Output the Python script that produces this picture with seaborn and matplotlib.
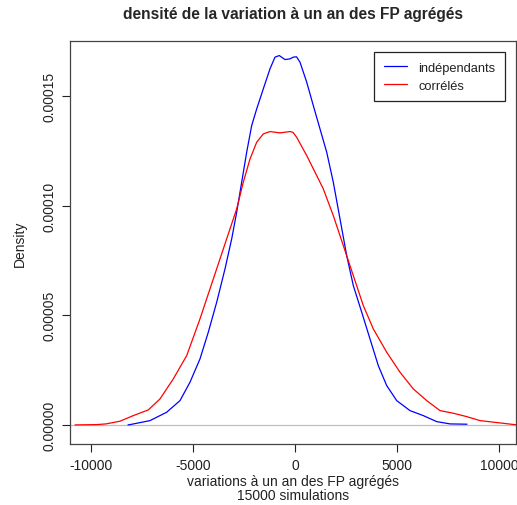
import matplotlib
matplotlib.use("Agg")
import matplotlib.pyplot as plt
import seaborn as sns
import pandas as pd

# Density curves
x_indep = [-8186, -8088, -7108, -6289, -5637, -5147, -4657, -4250, -3838, -3431,
           -3103, -2858, -2613, -2368, -2123, -1877, -1554, -1226, -980, -770,
           -490, -245, -83, 74, 245, 574, 897, 1225, 1554, 1877, 2206, 2534,
           2858, 3270, 3676, 4083, 4495, 4985, 5637, 6289, 6946, 7598, 8431]
y_indep = [0.0, 1.4e-7, 1.96e-6, 5.79e-6, 1.108e-5, 1.947e-5, 3.009e-5, 4.226e-5,
           5.594e-5, 7.112e-5, 8.480e-5, 9.697e-5, 1.1065e-4, 1.2433e-4, 1.3645e-4,
           1.4406e-4, 1.5318e-4, 1.6230e-4, 1.6764e-4, 1.6836e-4, 1.6654e-4,
           1.6686e-4, 1.6764e-4, 1.678e-4, 1.6535e-4, 1.5624e-4, 1.4557e-4,
           1.3494e-4, 1.2433e-4, 1.1065e-4, 9.392e-5, 7.718e-5, 6.351e-5, 5.138e-5,
           3.921e-5, 2.703e-5, 1.792e-5, 1.108e-5, 6.52e-6, 4.24e-6, 1.50e-6,
           4.6e-7, 3.2e-7]

x_corr = [-10784, -9721, -9265, -8579, -7927, -7191, -6618, -5966, -5309, -4657,
          -4167, -3676, -3186, -2858, -2534, -2206, -1877, -1554, -1226, -735,
          -245, -98, 83, 574, 980, 1387, 1877, 2368, 2858, 3348, 3838, 4495,
          5147, 5799, 6456, 7108, 7760, 8417, 9069, 10049, 10701, 10833]
y_corr = [0.0, 1.4e-7, 4.6e-7, 1.69e-6, 4.24e-6, 6.84e-6, 1.185e-5, 2.097e-5,
          3.159e-5, 4.833e-5, 6.200e-5, 7.568e-5, 8.936e-5, 9.847e-5, 1.1065e-4,
          1.2120e-4, 1.2888e-4, 1.3266e-4, 1.3372e-4, 1.3312e-4, 1.3372e-4,
          1.3335e-4, 1.311e-4, 1.2278e-4, 1.1521e-4, 1.0759e-4, 9.542e-5,
          8.174e-5, 6.807e-5, 5.439e-5, 4.377e-5, 3.314e-5, 2.403e-5, 1.641e-5,
          1.108e-5, 6.52e-6, 5.33e-6, 3.78e-6, 1.96e-6, 9.1e-7, 2.0e-7, 1.0e-7]

series_names = ["indépendants", "corrélés"]
series_colors = ["#0000FF", "#FF0000"]
x_ticks = [-10000, -5000, 0, 5000, 10000]
x_tick_labels = ["-10000", "-5000", "0", "5000", "10000"]
y_ticks = [0.0, 0.00005, 0.00010, 0.00015]
y_tick_labels = ["0.00000", "0.00005", "0.00010", "0.00015"]

df = pd.concat([
    pd.DataFrame({"x": x_indep, "y": y_indep, "serie": series_names[0]}),
    pd.DataFrame({"x": x_corr, "y": y_corr, "serie": series_names[1]}),
], ignore_index=True)

sns.set_theme(style="ticks")
plt.rcParams["font.family"] = ["Liberation Sans", "DejaVu Sans"]

fig = plt.figure(figsize=(5.17, 5.06), dpi=100)
ax = fig.add_axes([70 / 517, 1 - 445 / 506, (516 - 70) / 517, (445 - 42) / 506])

ax.axhline(0, color="#bebebe", lw=0.9, zorder=1)
sns.lineplot(data=df, x="x", y="y", hue="serie", sort=False, estimator=None,
             palette=dict(zip(series_names, series_colors)), linewidth=0.9,
             ax=ax, zorder=2)

ax.set_xlim(-11029, 10833)
ax.set_ylim(-8.7e-6, 1.75e-4)
ax.set_xticks(x_ticks)
ax.set_xticklabels(x_tick_labels, fontsize=10, color="#222222")
ax.set_yticks(y_ticks)
ax.set_yticklabels(y_tick_labels, fontsize=10, color="#222222", rotation=90,
                   va="center")
ax.tick_params(axis="both", direction="out", length=6, width=0.8, color="#222222",
               pad=4)
for s in ax.spines.values():
    s.set_visible(True)
    s.set_color("#444444")
    s.set_linewidth(0.9)

ax.set_xlabel("variations à un an des FP agrégés\n15000 simulations",
              fontsize=10, color="#222222", labelpad=1.5, linespacing=1.0)
ax.set_ylabel("Density", fontsize=10, color="#222222", labelpad=11)
fig.text((70 + 516) / 2 / 517, 1 - 14 / 506,
         "densité de la variation à un an des FP agrégés",
         ha="center", va="center", fontsize=11.2, fontweight="bold")

leg = ax.legend(loc="upper right", bbox_to_anchor=(505 / 517, 1 - 53 / 506),
                bbox_transform=fig.transFigure, fontsize=9.3, frameon=True,
                fancybox=False, edgecolor="#222222", framealpha=1,
                borderpad=0.75, handlelength=1.8, handletextpad=0.85,
                labelspacing=0.45, borderaxespad=0)
leg.get_frame().set_linewidth(0.9)
for t in leg.get_texts():
    t.set_color("#222222")

fig.savefig("out.png", dpi=100)
